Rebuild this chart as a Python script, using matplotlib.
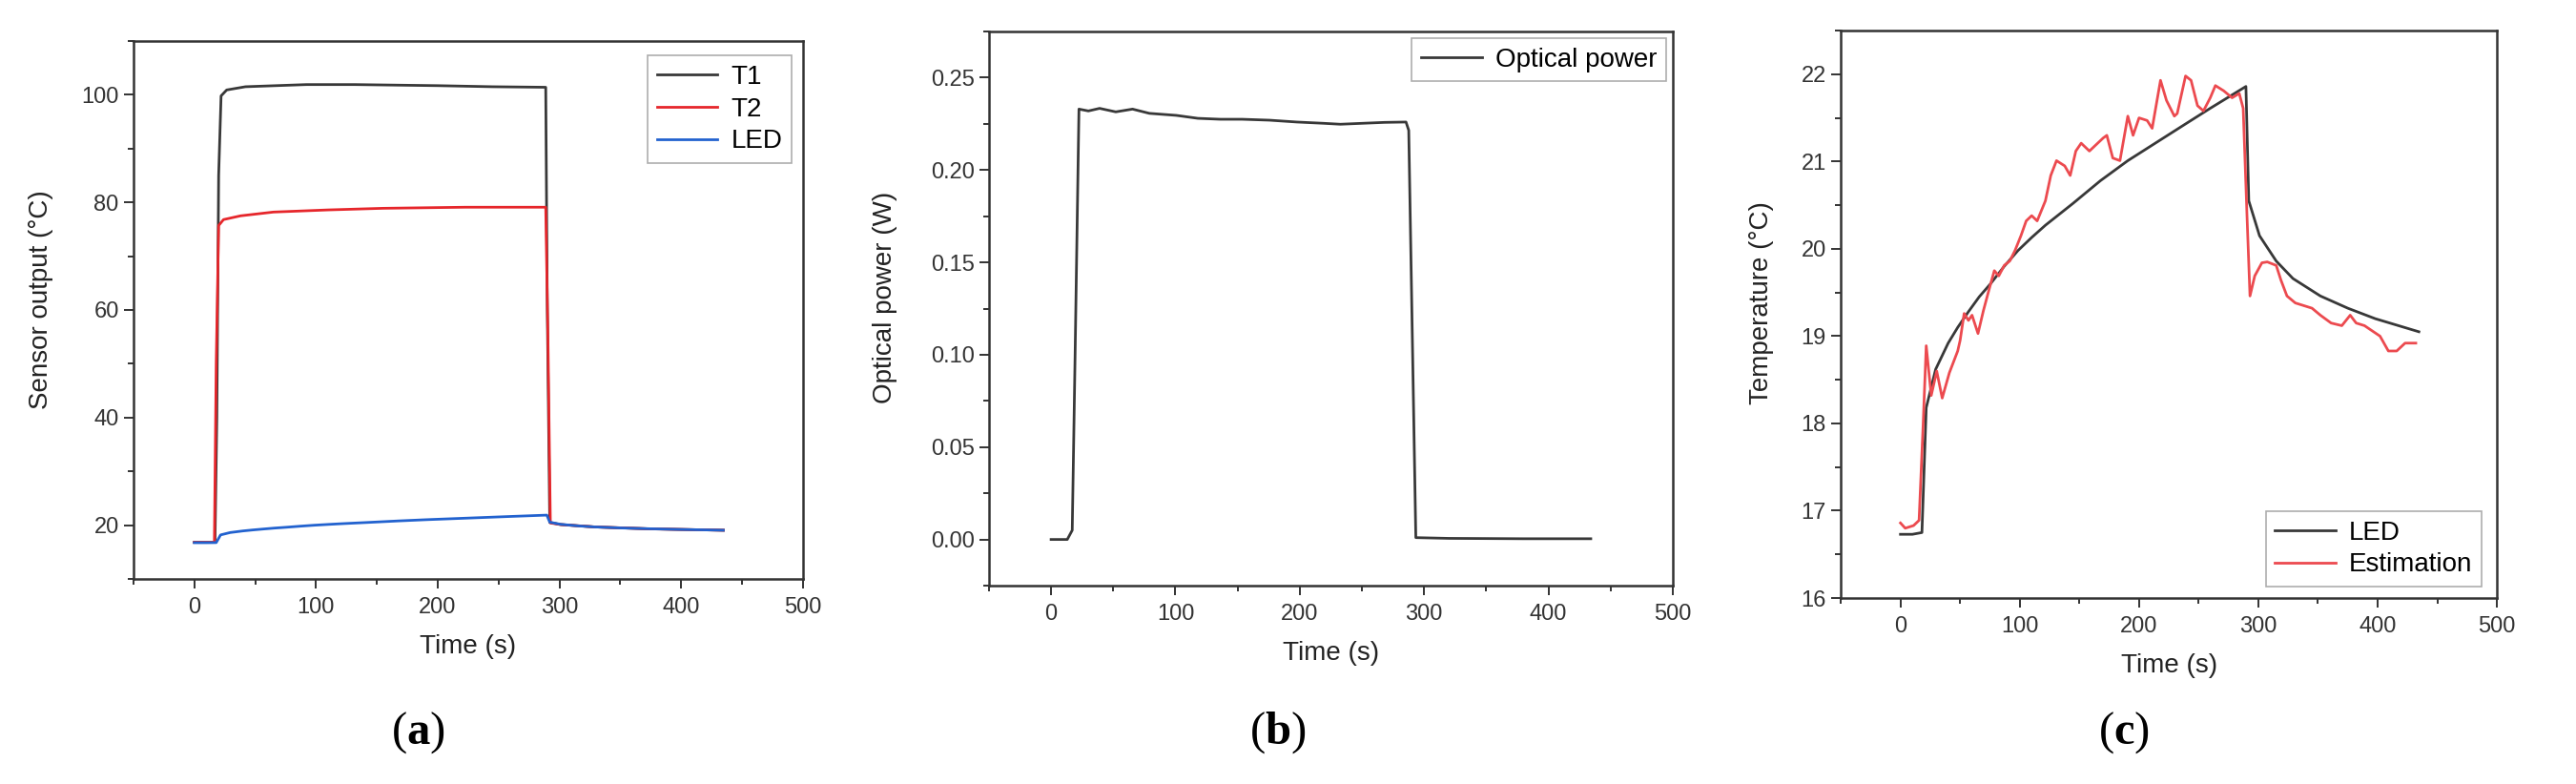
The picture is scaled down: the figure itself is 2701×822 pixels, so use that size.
import matplotlib
matplotlib.use("Agg")
import matplotlib.pyplot as plt
from matplotlib.ticker import MultipleLocator, FormatStrFormatter

plt.rcParams['font.family'] = ['Liberation Sans', 'DejaVu Sans']
plt.rcParams['mathtext.fontset'] = 'custom'
plt.rcParams['mathtext.rm'] = 'Liberation Serif'
plt.rcParams['mathtext.bf'] = 'Liberation Serif:bold'

# panel (a): sensor outputs
t_led = [0, 10, 18, 21.6, 29.5, 40, 48, 57, 66, 75.5, 87, 98.5, 110, 121.5, 144.6,
         167.6, 190.6, 213.6, 236.6, 259.7, 289.6, 292, 301, 315, 329, 352, 375,
         398, 434.6]
led = [16.73, 16.73, 16.75, 18.18, 18.62, 18.92, 19.1, 19.28, 19.45, 19.6, 19.8,
       19.98, 20.13, 20.27, 20.52, 20.78, 21.01, 21.21, 21.41, 21.61, 21.86, 20.55,
       20.15, 19.86, 19.66, 19.46, 19.32, 19.2, 19.05]

t_t1 = [0, 17, 18.5, 20, 22, 26.6, 42, 92, 132, 200, 245, 288.7, 290, 292, 301, 330, 375, 434.6]
t1 = [16.8, 16.8, 40, 85, 99.8, 100.9, 101.5, 101.9, 101.9, 101.7, 101.5, 101.4,
      60, 20.5, 20.1, 19.65, 19.3, 19.05]

t_t2 = [0, 16.5, 18, 20, 24, 38, 65, 110, 155, 222.5, 288.7, 290.5, 292.5, 301, 330, 375, 434.6]
t2 = [16.8, 16.8, 50, 75.7, 76.8, 77.5, 78.2, 78.6, 78.9, 79.1, 79.1, 55, 20.4,
      20.1, 19.65, 19.3, 19.05]

# panel (b): optical power
t_pow = [0, 13, 17, 19.3, 22.4, 30, 39, 52, 65.5, 79, 100.7, 118, 136, 153.5, 175.5,
         197.5, 219.4, 232.6, 250, 268, 285.4, 287.6, 293.3, 320, 380, 434]
power = [0.0, 0.0, 0.005, 0.1, 0.233, 0.232, 0.2334, 0.2315, 0.233, 0.2307, 0.2296,
         0.228, 0.2275, 0.2275, 0.227, 0.226, 0.2253, 0.2248, 0.2253, 0.2258, 0.226,
         0.2215, 0.001, 0.0006, 0.0004, 0.0004]

# panel (c): LED temperature vs estimation
t_est = [0, 4, 11, 15.6, 19, 21.6, 25.8, 30.4, 35, 41, 48, 50, 53.4, 57, 60, 65, 69.5,
         74, 78.7, 82.4, 87, 91.6, 96, 101, 105.4, 110, 114.6, 121.5, 126, 130.8,
         137.7, 142.3, 147, 151.5, 158.4, 163, 170, 173, 178, 184, 190.6, 195, 200,
         206.8, 211, 218, 223, 229.6, 232, 239, 243.6, 249, 254, 259.7, 264, 271,
         278, 284, 287.3, 290.5, 293, 297, 303, 307.5, 315, 319, 324, 331, 338, 345,
         352, 361, 370, 377, 382, 389, 395.5, 402, 409, 416, 423, 432]
est = [16.86, 16.8, 16.83, 16.89, 17.98, 18.89, 18.32, 18.6, 18.29, 18.58, 18.83,
       18.95, 19.26, 19.18, 19.24, 19.03, 19.29, 19.52, 19.75, 19.69, 19.81, 19.86,
       19.98, 20.15, 20.32, 20.38, 20.32, 20.55, 20.84, 21.01, 20.95, 20.84, 21.12,
       21.21, 21.12, 21.18, 21.27, 21.3, 21.04, 21.01, 21.52, 21.3, 21.5, 21.47,
       21.38, 21.93, 21.7, 21.52, 21.55, 21.98, 21.93, 21.64, 21.58, 21.73, 21.87,
       21.81, 21.73, 21.78, 21.61, 20.38, 19.46, 19.69, 19.84, 19.85, 19.81, 19.64,
       19.46, 19.38, 19.35, 19.32, 19.24, 19.15, 19.12, 19.24, 19.15, 19.12, 19.06,
       19.0, 18.83, 18.83, 18.92, 18.92]

DARK = '#383838'
RED = '#e6262b'
BLUE = '#2262cf'
RED2 = '#ec4a4f'

fig = plt.figure(figsize=(27.01, 8.22), dpi=100)
axa = fig.add_axes([0.0518, 0.2616, 0.2599, 0.6861])
axb = fig.add_axes([0.3839, 0.2530, 0.2655, 0.7068])
axc = fig.add_axes([0.7146, 0.2372, 0.2547, 0.7238])


def style(ax):
    for s in ax.spines.values():
        s.set_linewidth(1.8)
        s.set_color('#333333')
    ax.tick_params(which='both', direction='out', top=False, right=False,
                   colors='#333333', labelsize=17, width=1.4)
    ax.tick_params(which='major', length=7)
    ax.tick_params(which='minor', length=4)
    ax.tick_params(axis='x', pad=7)
    ax.tick_params(axis='y', pad=4)
    ax.set_xlim(-50, 500)
    ax.xaxis.set_major_locator(MultipleLocator(100))
    ax.xaxis.set_minor_locator(MultipleLocator(50))
    ax.set_xlabel('Time (s)', fontsize=20, color='#222222', labelpad=12)


def legend(ax, **kw):
    lg = ax.legend(fontsize=20, frameon=True, fancybox=False, borderaxespad=0,
                   handlelength=2.3, labelspacing=0.28, borderpad=0.35,
                   handletextpad=0.5, **kw)
    lg.get_frame().set_edgecolor('#999999')
    lg.get_frame().set_linewidth(1.2)


# (a)
axa.plot(t_t1, t1, color=DARK, lw=2.0, label='T1')
axa.plot(t_t2, t2, color=RED, lw=2.0, label='T2')
axa.plot(t_led, led, color=BLUE, lw=2.0, label='LED')
style(axa)
axa.set_ylim(10, 110)
axa.yaxis.set_major_locator(MultipleLocator(20))
axa.yaxis.set_minor_locator(MultipleLocator(10))
axa.set_ylabel('Sensor output (°C)', fontsize=20, color='#222222')
axa.yaxis.set_label_coords(-0.12, 0.52)
legend(axa, loc='upper right', bbox_to_anchor=(0.983, 0.973))

# (b)
axb.plot(t_pow, power, color=DARK, lw=2.0, label='Optical power')
style(axb)
axb.set_ylim(-0.025, 0.275)
axb.yaxis.set_major_locator(MultipleLocator(0.05))
axb.yaxis.set_minor_locator(MultipleLocator(0.025))
axb.yaxis.set_major_formatter(FormatStrFormatter('%.2f'))
axb.set_ylabel('Optical power (W)', fontsize=20, color='#222222')
axb.yaxis.set_label_coords(-0.134, 0.52)
legend(axb, loc='upper right', bbox_to_anchor=(0.990, 0.988))

# (c)
axc.plot(t_led, led, color=DARK, lw=2.0, label='LED')
axc.plot(t_est, est, color=RED2, lw=2.0, label='Estimation')
style(axc)
axc.set_ylim(16, 22.5)
axc.yaxis.set_major_locator(MultipleLocator(1))
axc.yaxis.set_minor_locator(MultipleLocator(0.5))
axc.set_ylabel('Temperature (°C)', fontsize=20, color='#222222')
axc.yaxis.set_label_coords(-0.102, 0.52)
legend(axc, loc='lower right', bbox_to_anchor=(0.977, 0.02))

for x, letter in [(0.1622, 'a'), (0.4961, 'b'), (0.8245, 'c')]:
    fig.text(x, 0.0657, r'$\mathrm{(}\mathbf{%s}\mathrm{)}$' % letter, fontsize=35,
             ha='center', va='center', color='black')

fig.savefig('out.png', dpi=100)
